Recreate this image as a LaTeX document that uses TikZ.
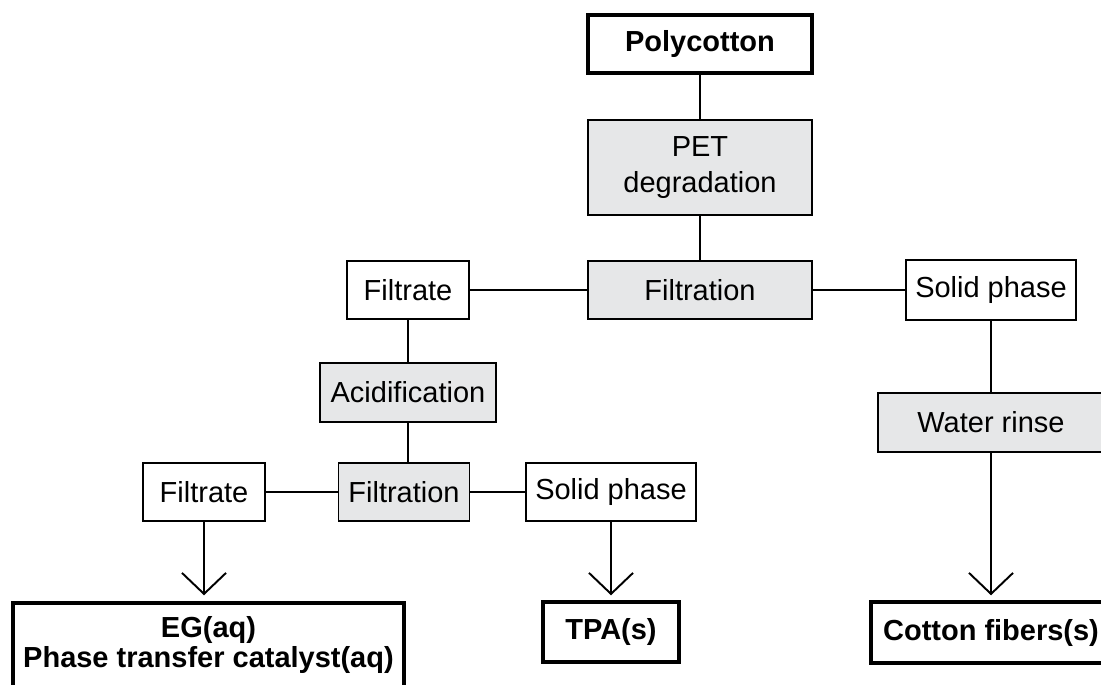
\documentclass[tikz,border=0pt]{standalone}
\usepackage{fontspec}
\setmainfont{Liberation Sans}
\usetikzlibrary{arrows.meta}
\definecolor{procgray}{RGB}{230,231,232}
\begin{document}
\begin{tikzpicture}[x=0.02cm,y=-0.02cm,line width=1.1pt,
    box/.style={draw,inner sep=0pt,minimum height=1.16cm,font=\fontsize{16.5}{20}\selectfont,align=center},
    proc/.style={box,fill=procgray},
    prod/.style={box,line width=2pt,font=\fontsize{16.5}{17}\selectfont\bfseries},
    >={Straight Barb[length=0.42cm,width=0.88cm]}]
  \useasboundingbox (0,0) rectangle (1101,684);
  \clip (0,0) rectangle (1101,684);
  % top column
  \node[prod,minimum width=4.48cm] (poly) at (700,44) {Polycotton};
  \node[proc,minimum width=4.48cm,minimum height=1.9cm] (pet) at (700,167.5) {PET\\degradation};
  \node[proc,minimum width=4.48cm] (filtA) at (700,290) {Filtration};
  \node[box,minimum width=2.44cm] (filtrateA) at (408,290) {Filtrate};
  \node[box,minimum width=3.4cm,minimum height=1.2cm] (solidA) at (991,290) {Solid phase};
  % left branch
  \node[proc,minimum width=3.52cm,minimum height=1.18cm] (acid) at (408,392.5) {Acidification};
  \node[proc,minimum width=2.62cm] (filtB) at (404,492) {Filtration};
  \node[box,minimum width=2.44cm] (filtrateB) at (204,492) {Filtrate};
  \node[box,minimum width=3.4cm] (solidB) at (611,492) {Solid phase};
  % right branch
  \node[proc,minimum width=4.52cm,minimum height=1.18cm] (rinse) at (991,422.5) {Water rinse};
  % products
  \node[prod,minimum width=7.82cm,minimum height=1.68cm] (eg) at (208.5,645) {EG(aq)\\Phase transfer catalyst(aq)};
  \node[prod,minimum width=2.72cm,minimum height=1.2cm] (tpa) at (611,632) {TPA(s)};
  \node[prod,minimum width=4.8cm,minimum height=1.22cm] (cotton) at (991,632.5) {Cotton fibers(s)};
  \draw (poly) -- (pet) -- (filtA);
  \draw (filtrateA) -- (filtA) -- (solidA);
  \draw (filtrateA) -- (acid);
  \draw (acid) -- (acid |- filtB.north);
  \draw (filtrateB) -- (filtB) -- (solidB);
  \draw (solidA) -- (rinse);
  \draw[->,shorten >=0.12cm] (filtrateB) -- (filtrateB |- eg.north);
  \draw[->,shorten >=0.1cm] (solidB) -- (tpa);
  \draw[->,shorten >=0.1cm] (rinse) -- (cotton);
\end{tikzpicture}
\end{document}
